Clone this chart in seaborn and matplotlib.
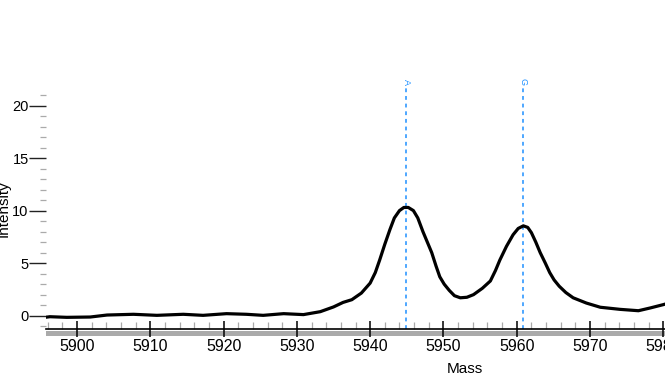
import matplotlib
matplotlib.use("Agg")
import matplotlib.pyplot as plt
import seaborn as sns
import pandas as pd
from matplotlib.ticker import MultipleLocator
from matplotlib.patches import Rectangle

mass = [5895.0, 5896.3, 5898.6, 5901.8, 5904.1, 5907.7, 5910.9, 5914.5, 5917.2,
        5920.4, 5923.1, 5925.4, 5928.2, 5930.9, 5933.2, 5935.0, 5936.3, 5937.5,
        5938.8, 5940.0, 5940.7, 5941.3, 5942.0, 5942.7, 5943.3, 5944.0, 5944.6,
        5945.2, 5945.9, 5946.5, 5947.2, 5947.8, 5948.4, 5949.0, 5949.5, 5950.1,
        5950.8, 5951.5, 5952.3, 5953.2, 5954.1, 5955.3, 5956.4, 5957.1, 5957.7,
        5958.6, 5959.5, 5960.2, 5960.9, 5961.5, 5962.0, 5962.6, 5963.2, 5963.9,
        5964.5, 5965.1, 5965.8, 5966.7, 5967.7, 5969.5, 5971.4, 5974.1, 5976.6,
        5978.2, 5980.0, 5980.5]
intensity = [-0.22, -0.1, -0.16, -0.13, 0.06, 0.13, 0.03, 0.13, 0.03,
             0.19, 0.13, 0.03, 0.19, 0.1, 0.38, 0.83, 1.26, 1.52,
             2.15, 3.1, 4.1, 5.3, 6.8, 8.2, 9.3, 10.0, 10.3,
             10.3, 10.0, 9.3, 8.0, 7.0, 6.0, 4.7, 3.7, 3.0,
             2.4, 1.9, 1.7, 1.75, 2.0, 2.6, 3.3, 4.3, 5.3,
             6.6, 7.7, 8.3, 8.55, 8.4, 7.9, 7.0, 6.0, 5.0,
             4.1, 3.4, 2.8, 2.2, 1.7, 1.2, 0.8, 0.6, 0.47,
             0.73, 1.05, 1.15]

marker_names = ["A", "G"]
marker_mass = [5944.9, 5960.8]

x_ticks = [5900, 5910, 5920, 5930, 5940, 5950, 5960, 5970, 5980]
y_ticks = [0, 5, 10, 15, 20]

sns.set_theme(style="white")
plt.rcParams["font.family"] = ["Liberation Sans", "DejaVu Sans"]

fig = plt.figure(figsize=(6.65, 3.76), dpi=100)
ax = fig.add_axes([46 / 665, (376 - 329) / 376, (665 - 46) / 665, (329 - 88) / 376])

df = pd.DataFrame({"Mass": mass, "Intensity": intensity})
sns.lineplot(data=df, x="Mass", y="Intensity", ax=ax, color="black",
             linewidth=2.3, sort=False)

blue = "#1E90FF"
for name, m in zip(marker_names, marker_mass):
    ax.axvline(m, color=blue, linestyle=(0, (2.5, 2.5)), linewidth=1.1, zorder=1)
    ax.text(m, 1.014, name, transform=ax.get_xaxis_transform(), rotation=-90,
            ha="center", va="bottom", fontsize=6.5, color=blue)

ax.set_xlim(5895.77, 5980.23)
ax.set_ylim(-1.27, 21.67)
ax.set_xticks(x_ticks)
ax.set_yticks(y_ticks)
ax.xaxis.set_minor_locator(MultipleLocator(2))
ax.yaxis.set_minor_locator(MultipleLocator(1))

for s in ["top", "right", "left"]:
    ax.spines[s].set_visible(False)
ax.spines["bottom"].set_color("black")
ax.spines["bottom"].set_linewidth(1.2)
ax.spines["bottom"].set_zorder(3)

ax.tick_params(axis="x", which="major", direction="inout", length=12, width=1.1,
               color="black", labelsize=11.5, pad=1.5, labelcolor="black", bottom=True)
ax.tick_params(axis="x", which="minor", direction="in", length=4.8, width=0.9,
               color="#aaaaaa", bottom=True)
ax.tick_params(axis="y", which="major", direction="out", length=12, width=1.0,
               color="#222222", labelsize=10.5, pad=0.5, labelcolor="black", left=True)
ax.tick_params(axis="y", which="minor", direction="out", length=4.3, width=0.9,
               color="#aaaaaa", left=True)
ax.grid(False)

shadow = Rectangle((0, -0.031), 1.0, 0.024, transform=ax.transAxes,
                   facecolor="#aaaaaa", edgecolor="none", clip_on=False, zorder=0.5)
ax.add_patch(shadow)

ax.set_xlabel("Mass", fontsize=11, color="black")
ax.xaxis.set_label_coords((465 - 46) / 619, (329 - 376) / 241, transform=ax.transAxes)
ax.xaxis.label.set_va("bottom")
ax.set_ylabel("Intensity", fontsize=11, color="black")
ax.yaxis.set_label_coords((4 - 46) / 619, 0.5)
ax.yaxis.label.set_va("center")

fig.savefig("out.png", dpi=100)
